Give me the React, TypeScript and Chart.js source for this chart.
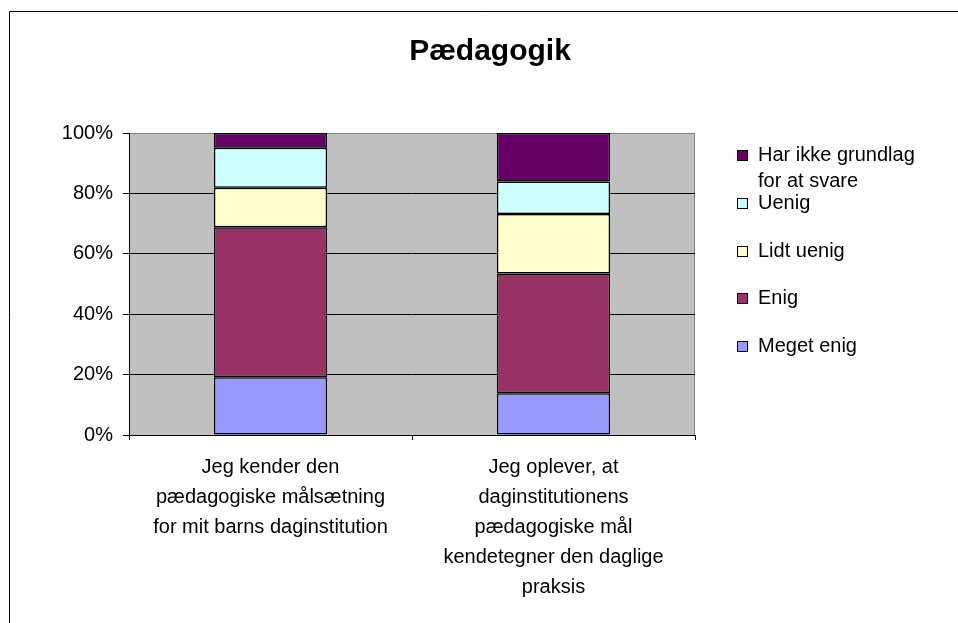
import React, { useEffect, useRef } from "react";
import { Chart, registerables } from "chart.js";

Chart.register(...registerables);

const chartTitle = "Pædagogik";
const categories: string[][] = [
  ["Jeg kender den", "pædagogiske målsætning", "for mit barns daginstitution"],
  ["Jeg oplever, at", "daginstitutionens", "pædagogiske mål", "kendetegner den daglige", "praksis"],
];
const seriesNames = ["Meget enig", "Enig", "Lidt uenig", "Uenig", "Har ikke grundlag for at svare"];
const megetEnig = [19.1, 13.8];
const enig = [49.7, 39.7];
const lidtUenig = [13.1, 19.7];
const uenig = [13.2, 10.7];
const harIkkeGrundlag = [4.9, 16.1];
const seriesColors = ["#9999FF", "#993366", "#FFFFCC", "#CCFFFF", "#660066"];
const yTickStep = 20;
const yMax = 100;

const FONT = '"Liberation Sans", Arial, sans-serif';

function wrapText(ctx: CanvasRenderingContext2D, text: string, maxWidth: number): string[] {
  const words = text.split(" ");
  const lines: string[] = [];
  let cur = "";
  for (const w of words) {
    const test = cur ? cur + " " + w : w;
    if (ctx.measureText(test).width > maxWidth && cur) {
      lines.push(cur);
      cur = w;
    } else {
      cur = test;
    }
  }
  if (cur) lines.push(cur);
  return lines;
}

const framePlugin = {
  id: "frame",
  beforeDraw(chart: any) {
    const { ctx, chartArea: a } = chart;
    ctx.save();
    ctx.fillStyle = "#FFFFFF";
    ctx.fillRect(0, 0, chart.width, chart.height);
    ctx.strokeStyle = "#000000";
    ctx.lineWidth = 1;
    ctx.beginPath();
    ctx.moveTo(9.5, chart.height);
    ctx.lineTo(9.5, 11.5);
    ctx.lineTo(chart.width, 11.5);
    ctx.stroke();
    ctx.fillStyle = "#C0C0C0";
    ctx.fillRect(a.left, a.top, a.right - a.left, a.bottom - a.top);
    ctx.strokeStyle = "#808080";
    ctx.beginPath();
    ctx.moveTo(a.left, a.top + 0.5);
    ctx.lineTo(a.right - 0.5, a.top + 0.5);
    ctx.lineTo(a.right - 0.5, a.bottom);
    ctx.stroke();
    ctx.restore();
  },
  afterDraw(chart: any) {
    const { ctx, chartArea: a } = chart;
    ctx.save();
    // title
    ctx.font = `bold 30px ${FONT}`;
    ctx.fillStyle = "#000000";
    ctx.textAlign = "center";
    ctx.textBaseline = "middle";
    ctx.fillText(chartTitle, 490, 52);
    // legend
    ctx.font = `20px ${FONT}`;
    ctx.textAlign = "left";
    const ds = chart.data.datasets.slice().reverse();
    const boxX = a.right + 42;
    const textX = a.right + 63;
    const y0 = 155;
    const step = 47.75;
    ds.forEach((d: any, i: number) => {
      const y = Math.round(y0 + i * step);
      ctx.fillStyle = d.backgroundColor;
      ctx.fillRect(boxX, y - 5, 11, 11);
      ctx.strokeStyle = "#000000";
      ctx.lineWidth = 1;
      ctx.strokeRect(boxX + 0.5, y - 4.5, 10, 10);
      ctx.fillStyle = "#000000";
      const lines = wrapText(ctx, d.label, 175);
      lines.forEach((ln, j) => ctx.fillText(ln, textX, y + j * 26));
    });
    ctx.restore();
  },
};

export default function App() {
  const canvasRef = useRef<HTMLCanvasElement | null>(null);

  useEffect(() => {
    if (!canvasRef.current) return;
    Chart.defaults.font.family = FONT;
    Chart.defaults.color = "#000000";
    const seriesValues = [megetEnig, enig, lidtUenig, uenig, harIkkeGrundlag];
    const chart = new Chart(canvasRef.current, {
      type: "bar",
      data: {
        labels: categories,
        datasets: seriesValues.map((vals, i) => ({
          label: seriesNames[i],
          data: vals,
          backgroundColor: seriesColors[i],
          borderColor: "#000000",
          borderWidth: 1.5,
          borderSkipped: false,
          barPercentage: 0.4,
          categoryPercentage: 1.0,
        })),
      },
      options: {
        responsive: false,
        animation: false,
        devicePixelRatio: 1,
        layout: { padding: { left: 0, top: 133, right: 263, bottom: 0 } },
        plugins: {
          legend: { display: false },
          title: { display: false },
          tooltip: { enabled: false },
        },
        scales: {
          x: {
            stacked: true,
            afterFit: (scale: any) => {
              scale.height = 188;
            },
            grid: {
              drawOnChartArea: false,
              drawTicks: true,
              tickLength: 5,
              color: "#000000",
              tickColor: "#000000",
              offset: true,
            },
            border: { color: "#000000", width: 1 },
            ticks: {
              color: "#000000",
              font: { size: 20, lineHeight: 1.5 },
              padding: 12,
              maxRotation: 0,
              minRotation: 0,
              autoSkip: false,
            },
          },
          y: {
            stacked: true,
            min: 0,
            max: yMax,
            afterFit: (scale: any) => {
              scale.width = 129;
            },
            grid: {
              color: (c: any) => (c.tick && c.tick.value === yMax ? "#808080" : "#000000"),
              tickColor: "#000000",
              tickLength: 6,
              drawTicks: true,
            },
            border: { color: "#000000", width: 1 },
            ticks: {
              stepSize: yTickStep,
              color: "#000000",
              font: { size: 20 },
              padding: 10,
              callback: (v: any) => `${v}%`,
            },
          },
        },
      },
      plugins: [framePlugin],
    } as any);
    return () => chart.destroy();
  }, []);

  return (
    <div style={{ position: "fixed", left: 0, top: 0, width: 958, height: 623, background: "#fff" }}>
      <canvas ref={canvasRef} width={958} height={623} style={{ display: "block", width: 958, height: 623 }} />
    </div>
  );
}
